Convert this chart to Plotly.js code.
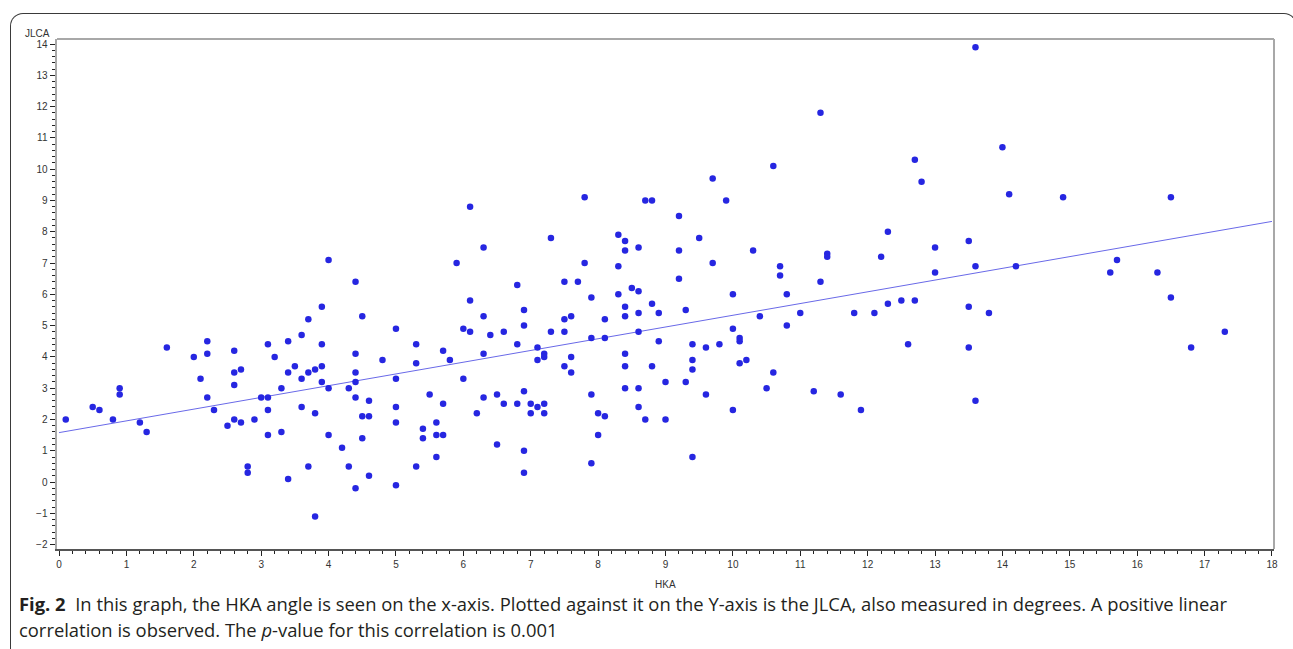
<!DOCTYPE html>
<html>
<head>
<meta charset="utf-8">
<script src="https://cdn.plot.ly/plotly-3.0.1.min.js"></script>
<style>
  html, body { margin:0; padding:0; background:#fff; overflow:hidden; }
  #chart { position:absolute; left:0; top:0; width:1293px; height:649px; }
  #frame { position:absolute; left:10px; top:13px; width:1287px; height:800px;
           border-top:1.5px solid #3a3a3a; border-left:1.5px solid #3a3a3a; border-right:1.5px solid #3a3a3a;
           border-radius:13px 13px 0 0; pointer-events:none; box-sizing:border-box; }
</style>
</head>
<body>
<div id="chart"></div>
<div id="frame"></div>
<script>
// HKA (x) and JLCA (y) values
const hka = [
  0.1,0.5,0.6,0.8,0.9,0.9,1.2,1.3,1.6,2.0,2.1,
  2.2,2.2,2.2,2.3,2.5,2.6,2.6,2.6,2.6,2.7,2.7,2.8,2.8,2.9,3.0,
  3.1,3.1,3.1,3.1,3.2,3.3,3.3,3.4,3.4,3.4,3.5,3.6,3.6,3.6,3.7,3.7,3.7,3.8,3.8,3.8,3.9,3.9,3.9,3.9,
  4.0,4.0,4.0,4.2,4.3,4.3,4.4,4.4,4.4,4.4,4.4,4.4,4.5,4.5,4.5,4.6,4.6,4.6,4.8,
  5.0,5.0,5.0,5.0,5.0,5.3,5.3,5.3,5.4,5.4,5.5,5.6,5.6,5.6,5.7,5.7,5.7,5.8,5.9,
  6.0,6.0,6.1,6.1,6.1,6.2,6.3,6.3,6.3,6.3,6.4,6.5,6.5,6.6,6.6,6.8,6.8,6.8,6.9,6.9,6.9,6.9,6.9,
  7.0,7.0,7.1,7.1,7.1,7.2,7.2,7.2,7.2,7.3,7.3,7.5,7.5,7.5,7.5,7.6,7.6,7.6,7.7,7.8,7.8,7.9,7.9,7.9,7.9,
  8.0,8.0,8.1,8.1,8.1,8.3,8.3,8.3,8.4,8.4,8.4,8.4,8.4,8.4,8.4,8.5,8.6,8.6,8.6,8.6,8.6,8.6,8.7,8.7,8.8,8.8,8.8,8.9,8.9,
  9.0,9.0,9.2,9.2,9.2,9.3,9.3,9.4,9.4,9.4,9.4,9.5,9.6,9.6,9.7,9.7,9.8,9.9,
  10.0,10.0,10.0,10.1,10.1,10.1,10.2,10.3,10.4,10.5,10.6,10.6,10.7,10.7,10.8,10.8,
  11.0,11.2,11.3,11.3,11.4,11.4,11.6,11.8,11.9,
  12.1,12.2,12.3,12.3,12.5,12.6,12.7,12.7,12.8,
  13.0,13.0,13.5,13.5,13.5,13.6,13.6,13.6,13.8,
  14.0,14.1,14.2,14.9,
  15.6,15.7,16.3,16.5,16.5,16.8,17.3
];
const jlca = [
  2.0,2.4,2.3,2.0,3.0,2.8,1.9,1.6,4.3,4.0,3.3,
  4.5,4.1,2.7,2.3,1.8,4.2,3.5,3.1,2.0,3.6,1.9,0.5,0.3,2.0,2.7,
  4.4,2.7,2.3,1.5,4.0,3.0,1.6,4.5,3.5,0.1,3.7,4.7,3.3,2.4,5.2,3.5,0.5,3.6,2.2,-1.1,5.6,4.4,3.7,3.2,
  7.1,3.0,1.5,1.1,3.0,0.5,6.4,4.1,3.5,3.2,2.7,-0.2,5.3,2.1,1.4,2.6,2.1,0.2,3.9,
  4.9,3.3,2.4,1.9,-0.1,4.4,3.8,0.5,1.7,1.4,2.8,1.9,1.5,0.8,4.2,2.5,1.5,3.9,7.0,
  4.9,3.3,8.8,5.8,4.8,2.2,7.5,5.3,4.1,2.7,4.7,2.8,1.2,4.8,2.5,6.3,4.4,2.5,5.5,5.0,2.9,1.0,0.3,
  2.5,2.2,4.3,3.9,2.4,4.1,4.0,2.5,2.2,7.8,4.8,6.4,5.2,4.8,3.7,5.3,4.0,3.5,6.4,9.1,7.0,5.9,4.6,2.8,0.6,
  2.2,1.5,5.2,4.6,2.1,7.9,6.9,6.0,7.7,7.4,5.6,5.3,4.1,3.7,3.0,6.2,7.5,6.1,5.4,4.8,3.0,2.4,9.0,2.0,9.0,5.7,3.7,5.4,4.5,
  3.2,2.0,8.5,7.4,6.5,5.5,3.2,4.4,3.9,3.6,0.8,7.8,4.3,2.8,9.7,7.0,4.4,9.0,
  6.0,4.9,2.3,4.6,4.5,3.8,3.9,7.4,5.3,3.0,10.1,3.5,6.9,6.6,6.0,5.0,
  5.4,2.9,11.8,6.4,7.3,7.2,2.8,5.4,2.3,
  5.4,7.2,8.0,5.7,5.8,4.4,10.3,5.8,9.6,
  7.5,6.7,7.7,5.6,4.3,13.9,6.9,2.6,5.4,
  10.7,9.2,6.9,9.1,
  6.7,7.1,6.7,9.1,5.9,4.3,4.8
];
// regression line end points
const fitX = [0, 18];
const fitY = [1.58, 8.33];

const xTitle = "HKA";
const yTitle = "JLCA";
const caption1 = "<b>Fig. 2</b>  In this graph, the HKA angle is seen on the x-axis. Plotted against it on the Y-axis is the JLCA, also measured in degrees. A positive linear";
const caption2 = "correlation is observed. The <i>p</i>-value for this correlation is 0.001";

const W = 1293, H = 649, L = 57, R = 19, T = 39, B = 100;
const pw = W - L - R, ph = H - T - B;
const px = v => (v - L) / pw;          // page pixel -> paper x
const py = v => (H - B - v) / ph;      // page pixel -> paper y

const tickFont = {family: "Liberation Sans, Arial, sans-serif", size: 10, color: "#333"};
const capFont = {family: "Open Sans, sans-serif", size: 18.4, color: "#231f20"};

const traces = [
  {x: fitX, y: fitY, type: "scatter", mode: "lines",
   line: {color: "rgb(105,105,232)", width: 1}, hoverinfo: "skip"},
  {x: hka, y: jlca, type: "scatter", mode: "markers",
   marker: {color: "rgb(38,38,225)", size: 6.5, line: {width: 0}}}
];

const layout = {
  width: W, height: H,
  margin: {l: L, r: R, t: T, b: B, pad: 0},
  paper_bgcolor: "rgba(0,0,0,0)", plot_bgcolor: "#fff",
  showlegend: false,
  xaxis: {
    range: [-0.03, 18.03], dtick: 1, tick0: 0, showgrid: false, zeroline: false,
    showline: true, linecolor: "#555", linewidth: 1.5,
    ticks: "outside", ticklen: 5, tickwidth: 1, tickcolor: "#222",
    minor: {dtick: 0.2, ticks: "outside", ticklen: 3, tickcolor: "#222", showgrid: false},
    tickfont: tickFont
  },
  yaxis: {
    range: [-2.14, 14.16], dtick: 1, tick0: 0, showgrid: false, zeroline: false,
    showline: true, linecolor: "#a8a8a8", linewidth: 2.5,
    ticks: "outside", ticklen: 5, tickwidth: 1, tickcolor: "#222",
    minor: {dtick: 0.2, ticks: "outside", ticklen: 3, tickcolor: "#222", showgrid: false},
    tickfont: tickFont
  },
  shapes: [
    {type: "line", xref: "paper", yref: "paper", x0: 0, x1: 1, y0: 1, y1: 1,
     line: {color: "#a8a8a8", width: 2}},
    {type: "line", xref: "paper", yref: "paper", x0: 1, x1: 1, y0: 0, y1: 1,
     line: {color: "#a8a8a8", width: 2}}
  ],
  annotations: [
    {text: yTitle, xref: "paper", yref: "paper", x: px(52), y: py(33),
     xanchor: "right", yanchor: "middle", showarrow: false, font: tickFont},
    {text: xTitle, xref: "paper", yref: "paper", x: px(665), y: py(584),
     xanchor: "center", yanchor: "middle", showarrow: false, font: tickFont},
    {text: caption1, xref: "paper", yref: "paper", x: px(17), y: py(603),
     xanchor: "left", yanchor: "middle", showarrow: false, font: capFont},
    {text: caption2, xref: "paper", yref: "paper", x: px(17), y: py(630),
     xanchor: "left", yanchor: "middle", showarrow: false, font: capFont}
  ]
};

Plotly.newPlot("chart", traces, layout, {displayModeBar: false, staticPlot: true});
</script>
</body>
</html>
